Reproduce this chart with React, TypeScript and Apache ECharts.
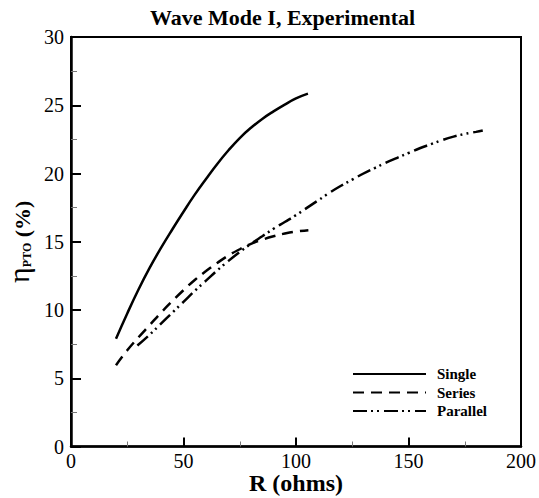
import React, { useEffect, useRef } from "react";
import * as echarts from "echarts";

const titleText = "Wave Mode I, Experimental";
const xName = "R (ohms)";
const legendNames = ["Single", "Series", "Parallel"];

const singleR = [20, 25, 30, 35, 40, 45, 50, 55, 60, 65, 70, 75, 80, 85, 90, 95, 100, 105.3];
const singleEta = [7.9, 9.75, 11.5, 13.1, 14.55, 15.9, 17.2, 18.45, 19.6, 20.7, 21.7, 22.6, 23.35, 24.0, 24.55, 25.05, 25.5, 25.85];

const seriesR = [20, 25, 30, 35, 40, 45, 50, 55, 60, 65, 70, 75, 80, 85, 90, 95, 100, 105.5];
const seriesEta = [5.95, 7.05, 8.0, 8.9, 9.8, 10.65, 11.45, 12.2, 12.85, 13.45, 14.0, 14.45, 14.85, 15.15, 15.4, 15.6, 15.75, 15.85];

const parallelR = [29.5, 35, 40, 45, 50, 55, 60, 65, 70, 75, 80, 85, 90, 95, 100, 105, 110, 115, 120, 125, 130, 135, 140, 145, 150, 155, 160, 165, 170, 175, 180, 183];
const parallelEta = [7.4, 8.2, 9.0, 9.8, 10.6, 11.4, 12.15, 12.9, 13.6, 14.25, 14.85, 15.4, 15.95, 16.45, 16.95, 17.5, 18.05, 18.6, 19.1, 19.55, 20.0, 20.4, 20.8, 21.15, 21.5, 21.85, 22.15, 22.45, 22.7, 22.9, 23.05, 23.15];

const zip = (xs: number[], ys: number[]) => xs.map((x, i) => [x, ys[i]]);

const SERIF = "'Liberation Serif', 'Times New Roman', serif";

export default function App() {
  const ref = useRef<HTMLDivElement>(null);
  useEffect(() => {
    if (!ref.current) return;
    const chart = echarts.init(ref.current, undefined, { renderer: "svg" });
    const lineBase = { type: "line", symbol: "none", smooth: 0.45, color: "#000" } as any;
    chart.setOption({
      animation: false,
      backgroundColor: "#fff",
      title: {
        text: titleText,
        left: 150,
        top: 6,
        padding: 0,
        textStyle: { fontFamily: SERIF, fontWeight: "bold", fontSize: 22, color: "#000" },
      },
      grid: {
        left: 71,
        top: 37,
        width: 450,
        height: 409.5,
        show: true,
        borderColor: "#000",
        borderWidth: 2,
        backgroundColor: "transparent",
        containLabel: false,
        outerBoundsMode: "none",
      },
      legend: {
        orient: "vertical",
        left: 352,
        top: 366,
        padding: 0,
        itemWidth: 73,
        itemHeight: 14,
        itemGap: 2.5,
        data: legendNames,
        itemStyle: { color: "transparent", borderColor: "transparent", borderWidth: 0, opacity: 0 },
        textStyle: {
          fontFamily: SERIF,
          fontWeight: "bold",
          fontSize: 15,
          color: "#000",
          lineHeight: 16,
          padding: [0, 0, 0, 6],
        },
      },
      xAxis: {
        type: "value",
        min: 0,
        max: 200,
        interval: 50,
        name: xName,
        nameLocation: "middle",
        nameGap: 24,
        nameMoveOverlap: false,
        nameTextStyle: { fontFamily: SERIF, fontWeight: "bold", fontSize: 24, lineHeight: 24, color: "#000", verticalAlign: "top" },
        axisLine: { show: true, lineStyle: { color: "#000", width: 2.5 } },
        axisTick: { show: true, inside: true, length: 9, lineStyle: { color: "#000", width: 2 } },
        minorTick: { show: true, splitNumber: 2, length: 5, lineStyle: { color: "#777", width: 1 } },
        axisLabel: { fontFamily: SERIF, fontSize: 20, color: "#000", margin: 4 },
        splitLine: { show: false },
      },
      yAxis: {
        type: "value",
        min: 0,
        max: 30,
        interval: 5,
        name: "{eta|η}{sub|PTO}{b| (%)}",
        nameLocation: "middle",
        nameGap: 38,
        nameTextStyle: {
          fontFamily: SERIF,
          color: "#000",
          rich: {
            eta: { fontFamily: SERIF, fontSize: 30, color: "#000", verticalAlign: "bottom", lineHeight: 26 },
            sub: { fontFamily: SERIF, fontSize: 12, fontWeight: "bold", color: "#000", verticalAlign: "bottom", lineHeight: 8 },
            b: { fontFamily: SERIF, fontSize: 22, fontWeight: "bold", color: "#000", verticalAlign: "bottom", lineHeight: 22 },
          },
        },
        axisLine: { show: true, lineStyle: { color: "#000", width: 2.5 } },
        axisTick: { show: true, inside: true, length: 10, lineStyle: { color: "#000", width: 2 } },
        minorTick: { show: true, splitNumber: 2, length: 6, lineStyle: { color: "#777", width: 1 } },
        axisLabel: { fontFamily: SERIF, fontSize: 20, color: "#000", margin: 7 },
        splitLine: { show: false },
      },
      series: [
        {
          ...lineBase,
          name: "Single",
          data: zip(singleR, singleEta),
          lineStyle: { color: "#000", width: 2.5, type: "solid" },
        },
        {
          ...lineBase,
          name: "Series",
          data: zip(seriesR, seriesEta),
          lineStyle: { color: "#000", width: 2.5, type: [11, 7] },
        },
        {
          ...lineBase,
          name: "Parallel",
          data: zip(parallelR, parallelEta),
          lineStyle: { color: "#000", width: 2.5, type: [14, 4, 2, 4, 2, 5] },
        },
      ],
    });
    return () => chart.dispose();
  }, []);
  return (
    <div
      ref={ref}
      style={{ position: "fixed", left: 0, top: 0, width: 539, height: 498, background: "#fff" }}
    />
  );
}
